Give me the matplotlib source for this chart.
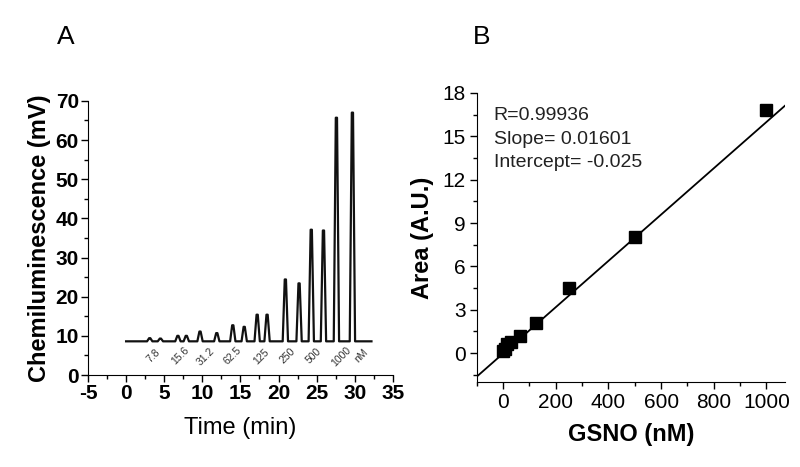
import matplotlib.pyplot as plt
from matplotlib.ticker import MultipleLocator

plt.rcParams['font.family'] = ['Liberation Sans', 'DejaVu Sans']
plt.rcParams['axes.unicode_minus'] = False

# Panel A: chromatogram peaks (time in min, height in mV)
baseline = 8.6
trace_start, trace_end = 0.0, 32.2
peak_times = [3.1, 4.5, 6.8, 7.9, 9.7, 11.9, 14.0, 15.5, 17.2, 18.5,
              20.9, 22.7, 24.3, 25.9, 27.6, 29.7]
peak_heights = [9.4, 9.3, 10.0, 10.0, 11.1, 10.7, 12.7, 12.3, 15.4, 15.4,
                24.4, 23.4, 37.1, 36.9, 65.7, 67.0]
conc_labels = ['7.8', '15.6', '31.2', '62.5', '125', '250', '500', '1000', 'nM']
conc_label_times = [3.6, 7.1, 10.4, 14.0, 17.7, 21.2, 24.6, 28.2, 30.8]

# Panel B: calibration
gsno = [0, 7.8, 15.6, 31.2, 62.5, 125, 250, 500, 1000]
area = [0.15, 0.3, 0.6, 0.8, 1.2, 2.1, 4.5, 8.0, 16.8]
slope, intercept = 0.01601, -0.025

fig = plt.figure(figsize=(8, 4.67), dpi=100)

# ---- A ----
ax1 = fig.add_axes([0.11, 0.197, 0.381, 0.587])
tx, ty = [trace_start], [baseline]
for t, h in zip(peak_times, peak_heights):
    tx += [t - 0.35, t - 0.08, t + 0.08, t + 0.35]
    ty += [baseline, h, h, baseline]
tx.append(trace_end)
ty.append(baseline)
ax1.plot(tx, ty, color='#111111', lw=1.6)
for lab, t in zip(conc_labels, conc_label_times):
    ax1.text(t, 4.8, lab, rotation=45, ha='center', va='center',
             fontsize=7.5, color='#333333')
ax1.set_xlim(-5, 35)
ax1.set_ylim(0, 70)
ax1.xaxis.set_major_locator(MultipleLocator(5))
ax1.xaxis.set_minor_locator(MultipleLocator(2.5))
ax1.yaxis.set_major_locator(MultipleLocator(10))
ax1.yaxis.set_minor_locator(MultipleLocator(5))
ax1.set_xlabel('Time (min)', fontsize=17, labelpad=10)
ax1.set_ylabel('Chemiluminescence (mV)', fontsize=17, fontweight='bold', labelpad=3)
for lab in ax1.get_xticklabels() + ax1.get_yticklabels():
    lab.set_fontweight('bold')
ax1.tick_params(labelsize=15, length=5, width=1, pad=1.5)
ax1.tick_params(which='minor', length=3, width=1)
ax1.spines['top'].set_visible(False)
ax1.spines['right'].set_visible(False)
fig.text(0.082, 0.92, 'A', fontsize=19, ha='center', va='center')

# ---- B ----
ax2 = fig.add_axes([0.596, 0.182, 0.385, 0.619])
fx = [-100, 1070]
fy = [slope * x + intercept for x in fx]
ax2.plot(fx, fy, color='black', lw=1.3)
ax2.plot(gsno, area, 's', color='black', markersize=8)
ax2.set_xlim(-100, 1070)
ax2.set_ylim(-2, 18)
ax2.xaxis.set_major_locator(MultipleLocator(200))
ax2.xaxis.set_minor_locator(MultipleLocator(100))
ax2.yaxis.set_major_locator(MultipleLocator(3))
ax2.yaxis.set_minor_locator(MultipleLocator(1.5))
ax2.set_yticks([0, 3, 6, 9, 12, 15, 18])
ax2.set_xlabel('GSNO (nM)', fontsize=17, fontweight='bold', labelpad=8)
ax2.set_ylabel('Area (A.U.)', fontsize=17, fontweight='bold', labelpad=6)
ax2.tick_params(labelsize=15, length=5, width=1, pad=3)
ax2.tick_params(which='minor', length=3, width=1)
ax2.spines['top'].set_visible(False)
ax2.spines['right'].set_visible(False)
ax2.text(0.055, 0.95, 'R=0.99936\nSlope= 0.01601\nIntercept= -0.025',
         transform=ax2.transAxes, ha='left', va='top', fontsize=14,
         linespacing=1.5, color='#222222')
fig.text(0.602, 0.92, 'B', fontsize=19, ha='center', va='center')

fig.savefig('out.png', dpi=100)
